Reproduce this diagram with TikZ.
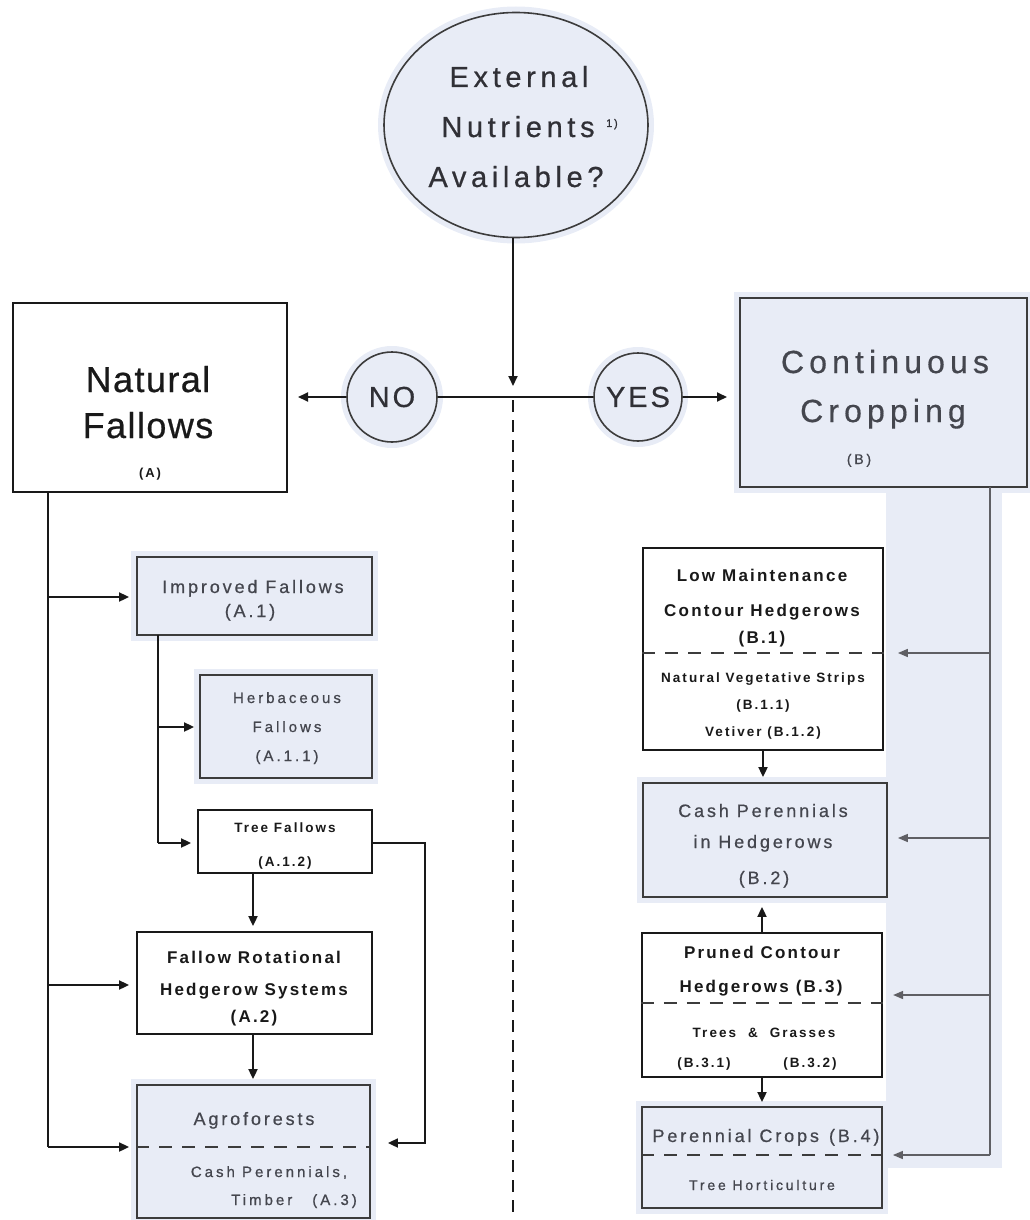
\documentclass[tikz,border=0pt]{standalone}
\usepackage{fontspec}
\setmainfont{Liberation Sans}
\newfontfamily\fell{Liberation Sans}[LetterSpace=16,FakeBold=0.6]
\newfontfamily\fnf{Liberation Sans}[LetterSpace=4,FakeBold=0.6]
\newfontfamily\fcc{Liberation Sans}[LetterSpace=16,FakeBold=0.5]
\newfontfamily\fyn{Liberation Sans}[LetterSpace=10,FakeBold=0.5]
\newfontfamily\fgm{Liberation Sans}[LetterSpace=16,FakeBold=0.6]
\newfontfamily\fgs{Liberation Sans}[LetterSpace=20,FakeBold=0.8]
\newfontfamily\fbm{Liberation Sans}[LetterSpace=13]
\newfontfamily\fbs{Liberation Sans}[LetterSpace=15]
\usetikzlibrary{arrows.meta,shapes.geometric}
\definecolor{bgblue}{RGB}{232,236,246}
\definecolor{tgray}{RGB}{68,70,78}
\definecolor{tdark}{RGB}{48,48,54}
\definecolor{ink}{RGB}{25,25,25}
\definecolor{lgrey}{RGB}{95,95,100}
\begin{document}
\begin{tikzpicture}[x=1pt,y=-1pt,
  box/.style={draw=ink, line width=1.8pt, rectangle, inner sep=0pt},
  wbox/.style={box, fill=white},
  sbox/.style={box, draw=ink!85, fill=bgblue, preaction={draw=bgblue, line width=12pt}},
  con/.style={line width=1.8pt, draw=ink},
  gcon/.style={line width=1.5pt, draw=lgrey},
  arr/.style={con, -{Triangle[length=10pt,width=9pt]}},
  garr/.style={gcon, -{Triangle[length=10pt,width=8pt]}},
  divline/.style={line width=1.4pt, draw=ink!85, dash pattern=on 13pt off 10pt},
  cline/.style={line width=2pt, draw=ink, dash pattern=on 12pt off 8pt},
  tell/.style={font=\fell\fontsize{29}{35}\selectfont, text=tdark, anchor=base, inner sep=0pt},
  tsup/.style={font=\fell\fontsize{11}{12}\selectfont, text=tdark, inner sep=0pt},
  tnf/.style={font=\fnf\fontsize{36}{44}\selectfont, text=ink, anchor=base, inner sep=0pt},
  tcc/.style={font=\fcc\fontsize{32}{40}\selectfont, text=tgray, anchor=base, inner sep=0pt},
  tlab/.style={font=\fbs\bfseries\fontsize{13}{15}\selectfont, text=ink, anchor=base, inner sep=0pt},
  tlabg/.style={font=\fgs\fontsize{14}{16}\selectfont, text=tgray, anchor=base, inner sep=0pt},
  tgm/.style={font=\fgm\fontsize{18}{22}\selectfont, text=tgray, anchor=base, inner sep=0pt},
  tgs/.style={font=\fgs\fontsize{15}{18}\selectfont, text=tgray, anchor=base, inner sep=0pt},
  tgt/.style={font=\fgs\fontsize{14}{17}\selectfont, text=tgray, anchor=base, inner sep=0pt},
  tbm/.style={font=\fbm\bfseries\fontsize{17}{20}\selectfont, text=ink, anchor=base, inner sep=0pt},
  tbs/.style={font=\fbs\bfseries\fontsize{13.5}{16}\selectfont, text=ink, anchor=base, inner sep=0pt},
  yn/.style={circle, draw=ink!85, line width=1.6pt, fill=bgblue, preaction={draw=bgblue, line width=12pt},
     font=\fyn\fontsize{29}{32}\selectfont, text=tdark, inner sep=0pt}
]
\useasboundingbox (0,0) rectangle (1030,1220);

% background strip on the right
\fill[bgblue] (886,487) rectangle (1002,1168);

% ---------------- top question ----------------
\node[sbox, draw=ink!85, line width=1.6pt, ellipse, minimum width=264pt, minimum height=225pt] (q) at (516,125) {};
\node[tell] (q1) at (519,87) {External};
\node[tell] (q2) at (518,137) {Nutrients};
\node[tsup, anchor=base west] (q2s) at (606,127) {1)};
\node[tell] (q3) at (516,187) {Available?};

\node[yn, minimum size=90pt] (no) at (392,397) {NO};
\node[yn, minimum size=88pt] (yes) at (638,397) {YES};

% ---------------- main boxes ----------------
\node[wbox, minimum width=274pt, minimum height=189pt] (nf) at (150,397.5) {};
\node[tnf] (nf1) at (148,392) {Natural};
\node[tnf] (nf2) at (148,438) {Fallows};
\node[tlab] (nf3) at (150,477) {(A)};

\node[sbox, minimum width=287pt, minimum height=189pt] (cc) at (883.5,392.5) {};
\node[tcc] (cc1) at (885,373) {Continuous};
\node[tcc] (cc2) at (883,422) {Cropping};
\node[tlabg] (cc3) at (859,464) {(B)};

% ---------------- left column ----------------
\node[sbox, minimum width=235pt, minimum height=78pt] (a1) at (254.5,596) {};
\node[tgm] (a1a) at (253,593) {Improved Fallows};
\node[tgm] (a1b) at (250,617) {(A.1)};

\node[sbox, minimum width=172pt, minimum height=103pt] (a11) at (286,726.5) {};
\node[tgs] (a11a) at (287,703) {Herbaceous};
\node[tgs] (a11b) at (287,732) {Fallows};
\node[tgs] (a11c) at (287,761) {(A.1.1)};

\node[wbox, minimum width=174pt, minimum height=63pt] (a12) at (285,841.5) {};
\node[tbs] (a12a) at (285,832) {Tree Fallows};
\node[tbs] (a12b) at (285,866) {(A.1.2)};

\node[wbox, minimum width=235pt, minimum height=102pt] (a2) at (254.5,983) {};
\node[tbm] (a2a) at (254,963) {Fallow Rotational};
\node[tbm] (a2b) at (254,995) {Hedgerow Systems};
\node[tbm] (a2c) at (254,1022) {(A.2)};

\node[sbox, minimum width=233pt, minimum height=133pt] (a3) at (253.5,1151.5) {};
\node[tgm] (a3a) at (254,1125) {Agroforests};
\node[tgs] (a3b) at (269,1177) {Cash Perennials,};
\node[tgs] (a3c) at (294,1205) {Timber\hspace{20pt}(A.3)};
\draw[divline] (a3.west |- 0,1147) -- (a3.east |- 0,1147);

% ---------------- right column ----------------
\node[wbox, minimum width=240pt, minimum height=202pt] (b1) at (763,649) {};
\node[tbm] (b1a) at (762,581) {Low Maintenance};
\node[tbm] (b1b) at (762,616) {Contour Hedgerows};
\node[tbm] (b1c) at (762,643) {(B.1)};
\draw[divline] (b1.west |- 0,653) -- (b1.east |- 0,653);
\node[tbs] (b1d) at (763,682) {Natural Vegetative Strips};
\node[tbs] (b1e) at (763,709) {(B.1.1)};
\node[tbs] (b1f) at (763,736) {Vetiver (B.1.2)};

\node[sbox, minimum width=244pt, minimum height=114pt] (b2) at (765,840) {};
\node[tgm] (b2a) at (763,817) {Cash Perennials};
\node[tgm] (b2b) at (763,848) {in Hedgerows};
\node[tgm] (b2c) at (764,884) {(B.2)};

\node[wbox, line width=2.2pt, minimum width=240pt, minimum height=144pt] (b3) at (762,1005) {};
\node[tbm] (b3a) at (762,958) {Pruned Contour};
\node[tbm] (b3b) at (761,992) {Hedgerows (B.3)};
\draw[divline] (b3.west |- 0,1003) -- (b3.east |- 0,1003);
\node[tbs] (b3c) at (764,1037) {Trees\hspace{12pt}\&\hspace{12pt}Grasses};
\node[tbs] (b3d) at (704,1067) {(B.3.1)};
\node[tbs] (b3e) at (810,1067) {(B.3.2)};

\node[sbox, minimum width=240pt, minimum height=101pt] (b4) at (762,1157.5) {};
\node[tgm] (b4a) at (766,1142) {Perennial Crops\hspace{10pt}(B.4)};
\draw[divline] (b4.west |- 0,1155) -- (b4.east |- 0,1155);
\node[tgt] (b4b) at (762,1190) {Tree Horticulture};

% ---------------- connectors: top ----------------
\coordinate (jn) at (513,386);
\draw[arr] (q.south -| jn) -- (jn);
\draw[con] (no) -- (yes);
\coordinate (nfin) at (298,397);
\coordinate (ccin) at (727,397);
\draw[arr] (no) -- (nfin);
\draw[arr] (yes) -- (ccin);
\coordinate (dtop) at (513,400);
\coordinate (dbot) at (513,1212);
\draw[cline] (dtop) -- (dbot);

% ---------------- connectors: left ----------------
\coordinate (lt0) at (48,492);
\coordinate (l1) at (48,597);
\coordinate (l2) at (48,985);
\coordinate (l3) at (48,1147);
\draw[con] (lt0) -- (l3);
\draw[arr, shorten >=7pt] (l1) -- (l1 -| a1.west);
\draw[arr, shorten >=7pt] (l2) -- (l2 -| a2.west);
\draw[arr, shorten >=7pt] (l3) -- (l3 -| a3.west);

\coordinate (s0) at (158,635);
\coordinate (s1) at (158,727);
\coordinate (s2) at (158,843);
\draw[con] (s0) -- (s2);
\draw[arr, shorten >=5pt] (s1) -- (s1 -| a11.west);
\draw[arr, shorten >=6pt] (s2) -- (s2 -| a12.west);

\coordinate (r1) at (425,843);
\coordinate (r2) at (425,1143);
\draw[arr, shorten >=17pt] (r1 -| a12.east) -- (r1) -- (r2) -- (r2 -| a3.east);

\coordinate (v1) at (253,873);
\draw[arr, shorten >=5pt] (v1) -- (v1 |- a2.north);
\draw[arr, shorten >=5pt] (a2.south -| v1) -- (v1 |- a3.north);

% ---------------- connectors: right ----------------
\coordinate (rt0) at (990,487);
\coordinate (k1) at (990,653);
\coordinate (k2) at (990,838);
\coordinate (k3) at (990,995);
\coordinate (k4) at (990,1155);
\draw[gcon] (rt0) -- (k4);
\draw[garr, shorten >=14pt] (k1) -- (k1 -| b1.east);
\draw[garr, shorten >=10pt] (k2) -- (k2 -| b2.east);
\draw[garr, shorten >=10pt] (k3) -- (k3 -| b3.east);
\draw[garr, shorten >=10pt] (k4) -- (k4 -| b4.east);

\draw[arr, shorten >=5pt] (b1.south) -- (b1.south |- b2.north);
\draw[arr, shorten >=9pt] (b3.north) -- (b3.north |- b2.south);
\draw[arr, shorten >=4pt] (b3.south) -- (b3.south |- b4.north);
\end{tikzpicture}
\end{document}
